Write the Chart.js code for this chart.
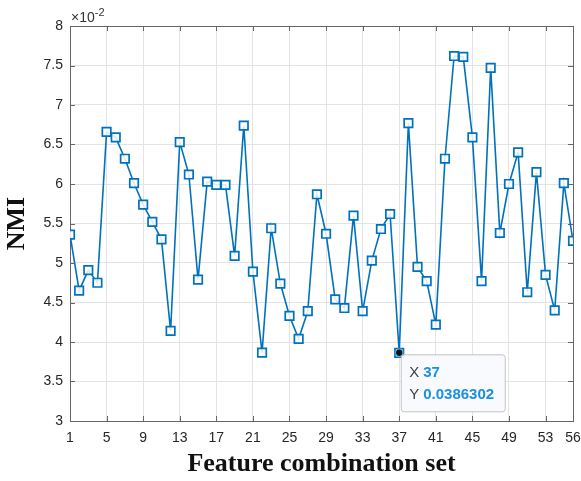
<!DOCTYPE html>
<html>
<head>
<meta charset="utf-8">
<script src="https://cdn.jsdelivr.net/npm/chart.js@4"></script>
<style>
  html, body { margin: 0; padding: 0; background: #ffffff; }
  #wrap { width: 581px; height: 481px; }
</style>
</head>
<body>
<div id="wrap"><canvas id="c" width="581" height="481"></canvas></div>
<script>
// ---- data ----
const featureSets = [1,2,3,4,5,6,7,8,9,10,11,12,13,14,15,16,17,18,19,20,21,22,23,24,25,26,27,28,
  29,30,31,32,33,34,35,36,37,38,39,40,41,42,43,44,45,46,47,48,49,50,51,52,53,54,55,56];
const nmiValues = [0.0536,0.0465,0.0491,0.0475,0.0666,0.0659,0.0632,0.0601,0.0574,0.0552,0.0530,0.0414,
  0.0653,0.0612,0.0479,0.0603,0.0599,0.0599,0.0509,0.0674,0.0489,0.03865,0.0544,0.0474,0.0433,0.0404,
  0.0439,0.0587,0.0537,0.0454,0.0443,0.0560,0.0439,0.0503,0.0543,0.0562,0.0386302,0.0677,0.0495,0.0477,
  0.0422,0.0632,0.0762,0.0761,0.0659,0.0477,0.0747,0.0538,0.0600,0.0640,0.0463,0.0615,0.0485,0.0440,
  0.0601,0.0528];
const xTickValues = [1,5,9,13,17,21,25,29,33,37,41,45,49,53,56];
const yTickValues = [0.03,0.035,0.04,0.045,0.05,0.055,0.06,0.065,0.07,0.075,0.08];
const datatipIndex = 36;   // Feature combination set 37

const AXIS_COLOR = '#666666';
const GRID_COLOR = '#e3e3e3';
const LINE_COLOR = '#0072BD';

const decorPlugin = {
  id: 'decor',
  beforeDatasetsDraw(chart) {
    const ctx = chart.ctx, a = chart.chartArea;
    const xs = chart.scales.x, ys = chart.scales.y;
    ctx.save();
    ctx.strokeStyle = AXIS_COLOR;
    ctx.lineWidth = 1;
    ctx.beginPath();
    const L = 5;
    xTickValues.forEach(v => {
      const px = Math.round(xs.getPixelForValue(v)) + 0.5;
      ctx.moveTo(px, a.bottom); ctx.lineTo(px, a.bottom - L);
      ctx.moveTo(px, a.top); ctx.lineTo(px, a.top + L);
    });
    yTickValues.forEach(v => {
      const py = Math.round(ys.getPixelForValue(v)) + 0.5;
      ctx.moveTo(a.left, py); ctx.lineTo(a.left + L, py);
      ctx.moveTo(a.right, py); ctx.lineTo(a.right - L, py);
    });
    ctx.stroke();
    ctx.strokeRect(Math.round(a.left) + 0.5, Math.round(a.top) + 0.5,
      Math.round(a.right - a.left), Math.round(a.bottom - a.top));
    // exponent label
    ctx.fillStyle = '#333333';
    ctx.textBaseline = 'alphabetic';
    ctx.textAlign = 'left';
    ctx.font = '14px "Liberation Sans", Arial, sans-serif';
    ctx.fillText('\u00d710', a.left + 1, a.top - 4);
    const w = ctx.measureText('\u00d710').width;
    ctx.font = '11px "Liberation Sans", Arial, sans-serif';
    ctx.fillText('-2', a.left + 1 + w, a.top - 10);
    ctx.restore();
  },
  afterDatasetsDraw(chart) {
    const ctx = chart.ctx;
    const xs = chart.scales.x, ys = chart.scales.y;
    const xv = featureSets[datatipIndex], yv = nmiValues[datatipIndex];
    const px = xs.getPixelForValue(xv), py = ys.getPixelForValue(yv);
    ctx.save();
    // box
    const bx = px + 2, by = py + 2, bw = 104, bh = 57, r = 3;
    ctx.beginPath();
    ctx.moveTo(bx + r, by);
    ctx.lineTo(bx + bw - r, by); ctx.arcTo(bx + bw, by, bx + bw, by + r, r);
    ctx.lineTo(bx + bw, by + bh - r); ctx.arcTo(bx + bw, by + bh, bx + bw - r, by + bh, r);
    ctx.lineTo(bx + r, by + bh); ctx.arcTo(bx, by + bh, bx, by + bh - r, r);
    ctx.lineTo(bx, by + r); ctx.arcTo(bx, by, bx + r, by, r);
    ctx.closePath();
    ctx.fillStyle = 'rgba(249,250,253,0.95)';
    ctx.fill();
    ctx.strokeStyle = '#c4c4c4';
    ctx.lineWidth = 1;
    ctx.stroke();
    // dot
    ctx.beginPath();
    ctx.arc(px, py, 4.5, 0, Math.PI * 2);
    ctx.fillStyle = 'rgba(120,190,240,0.5)';
    ctx.fill();
    ctx.beginPath();
    ctx.arc(px, py, 3.2, 0, Math.PI * 2);
    ctx.fillStyle = '#111111';
    ctx.fill();
    // text
    ctx.textBaseline = 'middle';
    ctx.textAlign = 'left';
    ctx.font = '15px "Liberation Sans", Arial, sans-serif';
    ctx.fillStyle = '#404040';
    ctx.fillText('X', px + 10, py + 20);
    ctx.fillText('Y', px + 10, py + 42);
    ctx.font = 'bold 15px "Liberation Sans", Arial, sans-serif';
    ctx.fillStyle = '#1a8fe3';
    ctx.fillText(String(xv), px + 24, py + 20);
    ctx.fillText(String(yv), px + 24, py + 42);
    ctx.restore();
  }
};

const points = featureSets.map((x, i) => ({ x: x, y: nmiValues[i] }));

new Chart(document.getElementById('c'), {
  type: 'line',
  data: {
    datasets: [{
      data: points,
      borderColor: LINE_COLOR,
      borderWidth: 1.6,
      pointStyle: 'rect',
      pointRadius: 6,
      pointBorderWidth: 1.7,
      pointBorderColor: LINE_COLOR,
      pointBackgroundColor: 'rgba(255,255,255,0.85)',
      tension: 0,
      fill: false
    }]
  },
  options: {
    responsive: false,
    animation: false,
    events: [],
    layout: { padding: { top: 26, right: 8, left: 0, bottom: 0 } },
    plugins: { legend: { display: false }, tooltip: { enabled: false } },
    scales: {
      x: {
        type: 'linear',
        min: 1, max: 56,
        afterBuildTicks: s => { s.ticks = xTickValues.map(v => ({ value: v })); },
        afterFit: s => { s.height = 60; s.paddingLeft = 0; s.paddingRight = 0; },
        grid: { color: GRID_COLOR, drawTicks: false, lineWidth: 1 },
        border: { display: false },
        ticks: {
          autoSkip: false, maxRotation: 0, padding: 9,
          color: '#262626',
          font: { family: '"Liberation Sans", Arial, sans-serif', size: 14 },
          callback: v => String(v)
        },
        title: {
          display: true, text: 'Feature combination set',
          color: '#111111',
          font: { family: '"Liberation Serif", "Times New Roman", serif', size: 26, weight: 'bold' },
          padding: { top: 0, bottom: 1 }
        }
      },
      y: {
        type: 'linear',
        min: 0.03, max: 0.08,
        afterBuildTicks: s => { s.ticks = yTickValues.map(v => ({ value: v })); },
        afterFit: s => { s.width = 70; s.paddingTop = 0; s.paddingBottom = 0; },
        grid: { color: GRID_COLOR, drawTicks: false, lineWidth: 1 },
        border: { display: false },
        ticks: {
          padding: 7,
          color: '#262626',
          font: { family: '"Liberation Sans", Arial, sans-serif', size: 14 },
          callback: v => String(+(v * 100).toFixed(1))
        },
        title: {
          display: true, text: 'NMI',
          color: '#111111',
          font: { family: '"Liberation Serif", "Times New Roman", serif', size: 26, weight: 'bold' },
          padding: { top: 2, bottom: 2 }
        }
      }
    }
  },
  plugins: [decorPlugin]
});
</script>
</body>
</html>
